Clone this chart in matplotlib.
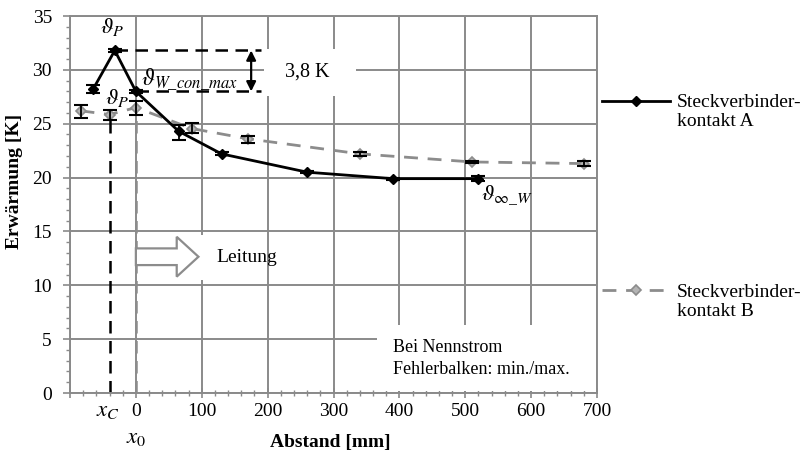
import matplotlib
matplotlib.use("Agg")
import matplotlib.pyplot as plt
from matplotlib.lines import Line2D
from matplotlib.patches import Rectangle, FancyArrow
from matplotlib.transforms import blended_transform_factory

plt.rcParams['font.family'] = ['Liberation Serif', 'DejaVu Serif']
plt.rcParams['mathtext.fontset'] = 'stix'

# Steckverbinderkontakt A
a_x = [-65, -32, 0, 65, 130, 260, 390, 520]
a_y = [28.2, 31.8, 28.0, 24.3, 22.2, 20.5, 19.9, 19.9]
a_lo = [0.35, 0.1, 0.15, 0.8, 0.15, 0.1, 0.1, 0.25]
a_hi = [0.35, 0.1, 0.15, 0.55, 0.15, 0.1, 0.1, 0.25]

# Steckverbinderkontakt B
b_x = [-84, -40, 0, 85, 170, 340, 510, 680]
b_y = [26.2, 25.85, 26.5, 24.55, 23.6, 22.2, 21.45, 21.3]
b_lo = [0.7, 0.55, 0.65, 0.45, 0.35, 0.2, 0.1, 0.2]
b_hi = [0.5, 0.45, 0.6, 0.55, 0.3, 0.2, 0.1, 0.2]

x_ticks = [-100, 0, 100, 200, 300, 400, 500, 600, 700]
x_ticklabels = ['', '0', '100', '200', '300', '400', '500', '600', '700']
y_ticks = [0, 5, 10, 15, 20, 25, 30, 35]

x_c = -40
delta_label = '3,8 K'

GRID = '#8a8a8a'
B_LINE = '#8c8c8c'
B_FACE = '#b4b4b4'
FS = 14
MFS = 16.5

fig = plt.figure(figsize=(8.09, 4.55), dpi=100)
ax = fig.add_axes([70 / 809, 1 - 393 / 455, 527 / 809, 377 / 455])
ax.set_xlim(-100, 700)
ax.set_ylim(0, 35)

ax.set_axisbelow(True)
ax.grid(True, which='major', color=GRID, linewidth=1.4)
for s in ax.spines.values():
    s.set_color(GRID)
    s.set_linewidth(1.4)

ax.set_xticks(x_ticks)
ax.set_xticklabels(x_ticklabels)
ax.set_xticks(range(-100, 701, 20), minor=True)
ax.set_yticks(y_ticks)
ax.set_yticks(range(0, 36), minor=True)
ax.tick_params(axis='x', which='major', direction='inout', length=7, width=1.2,
               color=GRID, labelsize=FS, pad=4)
ax.tick_params(axis='x', which='minor', direction='inout', length=5, width=1.0, color=GRID)
ax.tick_params(axis='y', which='major', direction='out', length=5, width=1.2,
               color=GRID, labelsize=FS, pad=8)
ax.tick_params(axis='y', which='minor', direction='out', length=3, width=1.0, color=GRID)

# White boxes behind annotations
ax.add_patch(Rectangle((2, 10.5), 188, 4.2, facecolor='white', edgecolor='none', zorder=1))
ax.add_patch(Rectangle((195, 27.6), 139, 4.3, facecolor='white', edgecolor='none', zorder=1))
ax.add_patch(Rectangle((366, 0.15), 333, 6.15, facecolor='white', edgecolor='none', zorder=1))

# Reference position lines
ax.plot([x_c, x_c], [0, b_y[1]], color='black', linestyle=(0, (5, 3)), linewidth=1.8, zorder=2)
ax.plot([0, 0], [0, b_y[2]], color=B_LINE, linestyle=(0, (5, 3)), linewidth=1.8, zorder=2)

# Series
ax.plot(b_x, b_y, color=B_LINE, linestyle=(0, (5, 3.5)), linewidth=2.0,
        marker='D', markersize=5.5, markerfacecolor=B_FACE, markeredgecolor=B_LINE,
        markeredgewidth=1.2, zorder=3)
ax.errorbar(b_x, b_y, yerr=[b_lo, b_hi], fmt='none', ecolor='black',
            elinewidth=1.3, capsize=5, capthick=1.5, zorder=3)
ax.plot(a_x, a_y, color='black', linewidth=2.0, marker='D', markersize=5.5,
        markerfacecolor='black', markeredgecolor='black', zorder=4)
ax.errorbar(a_x, a_y, yerr=[a_lo, a_hi], fmt='none', ecolor='black',
            elinewidth=1.3, capsize=5, capthick=1.5, zorder=4)

# Peak temperature difference
i_peak = a_y.index(max(a_y))
i_zero = a_x.index(0)
ax.plot([a_x[i_peak], 190], [a_y[i_peak]] * 2, color='black',
        linestyle=(0, (5, 3)), linewidth=1.8, zorder=2)
ax.plot([a_x[i_zero], 190], [a_y[i_zero]] * 2, color='black',
        linestyle=(0, (5, 3)), linewidth=1.8, zorder=2)
ax.annotate('', xy=(175, a_y[i_zero]), xytext=(175, a_y[i_peak]),
            arrowprops=dict(arrowstyle='<|-|>', color='black', lw=1.6,
                            mutation_scale=14, shrinkA=0, shrinkB=0), zorder=5)
ax.text(260, 29.8, delta_label, fontsize=FS + 0.5, ha='center', va='center', zorder=5)

# Annotation labels
ax.text(-36, 34.0, r'$\vartheta_P$', fontsize=MFS, ha='center', va='center', zorder=5)
ax.text(-29, 27.4, r'$\vartheta_P$', fontsize=MFS, ha='center', va='center', zorder=5)
ax.text(8, 29.1, r'$\vartheta_{W\_con\_max}$', fontsize=MFS + 0.5, ha='left', va='center', zorder=5)
ax.text(524, 18.4, r'$\vartheta_{\infty\_W}$', fontsize=MFS, ha='left', va='center', zorder=5)

# Current flow direction
ax.add_patch(FancyArrow(0, 12.65, 95, 0, width=1.55, head_width=3.7, head_length=33,
                        length_includes_head=True, facecolor='white', edgecolor=B_LINE,
                        linewidth=1.6, zorder=3))
ax.text(122, 12.6, 'Leitung', fontsize=FS, ha='left', va='center', zorder=5)

ax.text(390, 4.2, 'Bei Nennstrom', fontsize=FS - 1, ha='left', va='center', zorder=5)
ax.text(390, 2.2, 'Fehlerbalken: min./max.', fontsize=FS - 1, ha='left', va='center', zorder=5)

# Position labels below the axis
trans = blended_transform_factory(ax.transData, ax.transAxes)
ax.text(x_c - 2, -0.047, r'$x_C$', fontsize=MFS, ha='center', va='center',
        transform=trans, clip_on=False)
ax.text(0, -0.118, r'$x_0$', fontsize=MFS, ha='center', va='center',
        transform=trans, clip_on=False)

fig.text(15 / 809, 1 - 181 / 455, 'Erwärmung [K]', rotation=90, fontsize=FS,
         fontweight='bold', ha='center', va='center')
fig.text(330 / 809, 1 - 442 / 455, 'Abstand [mm]', fontsize=FS,
         fontweight='bold', ha='center', va='center')

# Legend drawn beside the axes
fig.add_artist(Line2D([602 / 809, 670 / 809], [1 - 101 / 455] * 2, color='black',
                      linewidth=2.0))
fig.add_artist(Line2D([636 / 809], [1 - 101 / 455], marker='D', markersize=5.5,
                      color='black'))
fig.add_artist(Line2D([602 / 809, 670 / 809], [1 - 290 / 455] * 2, color=B_LINE,
                      linewidth=2.0, linestyle=(0, (5, 3.5))))
fig.add_artist(Line2D([636 / 809], [1 - 290 / 455], marker='D', markersize=5.5,
                      markerfacecolor=B_FACE, markeredgecolor=B_LINE, markeredgewidth=1.2))
fig.text(677 / 809, 1 - 112 / 455, 'Steckverbinder-\nkontakt A', fontsize=FS,
         ha='left', va='center', linespacing=1.1)
fig.text(677 / 809, 1 - 302 / 455, 'Steckverbinder-\nkontakt B', fontsize=FS,
         ha='left', va='center', linespacing=1.1)

fig.savefig('out.png', dpi=100)
